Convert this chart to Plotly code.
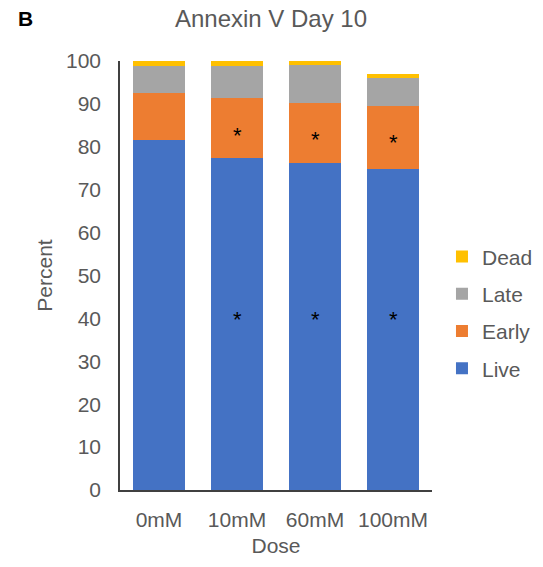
import plotly.graph_objects as go

doses = ["0mM", "10mM", "60mM", "100mM"]
live = [81.7, 77.5, 76.2, 74.8]
early = [10.8, 13.8, 13.9, 14.8]
late = [6.4, 7.6, 9.0, 6.4]
dead = [1.1, 1.1, 0.9, 1.0]

# significance markers: (dose, y position)
star_doses = ["10mM", "60mM", "100mM", "10mM", "60mM", "100mM"]
star_y = [83.7, 82.8, 82.2, 41, 41, 41]

# name, values, colour, legend rank (stack top listed first)
series = [
    ("Live", live, "#4472C4", 4),
    ("Early", early, "#ED7D31", 3),
    ("Late", late, "#A5A5A5", 2),
    ("Dead", dead, "#FFC000", 1),
]

text_color = "#595959"
font_family = "Liberation Sans, Arial, sans-serif"
fs = 21

fig = go.Figure()
for name, vals, color, rank in series:
    fig.add_trace(go.Bar(
        x=doses, y=vals, name=name, legendgroup=name, legendrank=rank,
        marker=dict(color=color, line=dict(width=0)),
    ))

for d, y in zip(star_doses, star_y):
    fig.add_annotation(x=d, y=y, text="*", showarrow=False,
                       font=dict(size=22, color="black", family=font_family),
                       yshift=-5)

fig.add_annotation(xref="paper", yref="paper", x=-0.332, y=1.098, text="<b>B</b>",
                   showarrow=False, xanchor="left", yanchor="middle",
                   font=dict(size=21, color="black", family=font_family))

fig.update_layout(
    barmode="stack",
    bargap=0.34,
    width=543, height=567,
    margin=dict(l=120, r=111, t=61, b=77, autoexpand=False),
    paper_bgcolor="white", plot_bgcolor="white",
    font=dict(family=font_family, size=fs, color=text_color),
    title=dict(text="Annexin V Day 10", x=0.484, xref="paper", xanchor="center",
               y=0.968, yanchor="middle",
               font=dict(size=24, color=text_color, family=font_family)),
    legend=dict(x=1.032, y=0.413, xanchor="left", yanchor="middle",
                traceorder="grouped", tracegroupgap=7,
                font=dict(size=fs, color=text_color),
                itemwidth=30),
    showlegend=True,
)

fig.update_yaxes(range=[0, 100], dtick=10, showgrid=False, showline=True,
                 linecolor="#404040", linewidth=1.5, automargin=False,
                 ticks="outside", ticklen=13, tickcolor="rgba(0,0,0,0)",
                 tickfont=dict(size=fs, color=text_color),
                 title=dict(text="Percent", font=dict(size=fs, color=text_color), standoff=8),
                 zeroline=False)
fig.update_xaxes(showgrid=False, showline=True, linecolor="#404040", linewidth=1.5,
                 automargin=False,
                 ticks="outside", ticklen=10, tickcolor="rgba(0,0,0,0)",
                 tickfont=dict(size=fs, color=text_color),
                 title=dict(text="Dose", font=dict(size=fs, color=text_color), standoff=8))

fig.write_html("out.html")
